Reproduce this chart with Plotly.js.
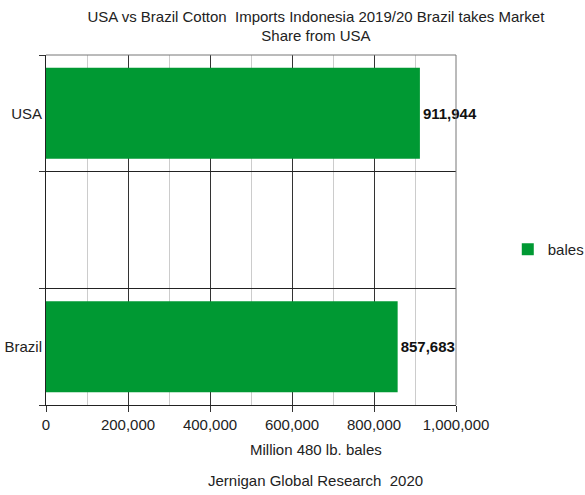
<!DOCTYPE html>
<html><head>
<script src="https://cdn.plot.ly/plotly-3.0.1.min.js"></script>
<style>body{margin:0;background:#fff}</style>
</head><body>
<div id="chart" style="width:585px;height:495px"></div>
<script>
const categories = ["Brazil", " ", "USA"];
const barCategories = ["USA", "Brazil"];
const bales = [911944, 857683];
const seriesName = "bales";
const chartTitle = "USA vs Brazil Cotton  Imports Indonesia 2019/20 Brazil takes Market<br>Share from USA";
const xTitle = "Million 480 lb. bales";
const footer = "Jernigan Global Research  2020";

const FONT = "Liberation Sans, Arial, sans-serif";

const trace = {
  type: "bar",
  orientation: "h",
  y: barCategories,
  x: bales,
  name: seriesName,
  marker: {color: "#009933"},
  width: 0.78,
  text: bales.map(v => v.toLocaleString("en-US")),
  textposition: "outside",
  cliponaxis: false,
  textfont: {family: FONT, size: 15, color: "#111", weight: "bold"},
  showlegend: true
};

const layout = {
  width: 585, height: 495,
  margin: {l: 46, r: 129, t: 55, b: 90},
  paper_bgcolor: "#fff", plot_bgcolor: "#fff",
  font: {family: FONT, size: 15, color: "#222"},
  title: {text: chartTitle, xref: "container", x: 0.54, xanchor: "center", yref: "container", y: 0.956, yanchor: "middle",
          font: {family: FONT, size: 15, color: "#222"}, automargin: false},
  xaxis: {
    range: [0, 1000000], dtick: 200000, tick0: 0, tickformat: ",d",
    showgrid: true, gridcolor: "#333", gridwidth: 1,
    minor: {dtick: 100000, showgrid: true, gridcolor: "#ccc", gridwidth: 1},
    ticks: "outside", ticklen: 6, tickcolor: "#333",
    showline: true, linecolor: "#222", zeroline: false,
    tickfont: {family: FONT, size: 15, color: "#222"}, fixedrange: true, automargin: false
  },
  yaxis: {
    type: "category", categoryorder: "array", categoryarray: categories,
    range: [-0.5, 2.5], tickson: "boundaries",
    ticks: "outside", ticklen: 6, tickcolor: "#333",
    showgrid: true, gridcolor: "#222", gridwidth: 1,
    showline: true, linecolor: "#222", zeroline: false,
    tickfont: {family: FONT, size: 15, color: "#222"}, fixedrange: true, automargin: false
  },
  legend: {xref: "container", x: 0.868, xanchor: "left", yref: "container", y: 0.496, yanchor: "middle",
           font: {family: FONT, size: 15, color: "#222"}, bgcolor: "rgba(0,0,0,0)"},
  shapes: [
    {type: "line", xref: "paper", yref: "paper", x0: 0, x1: 1, y0: 1, y1: 1, line: {color: "#777", width: 1}},
    {type: "line", xref: "paper", yref: "paper", x0: 1, x1: 1, y0: 0, y1: 1, line: {color: "#777", width: 1}}
  ],
  annotations: [
    {text: xTitle, xref: "paper", yref: "paper", x: 0.6585, y: -0.126, xanchor: "center", yanchor: "middle",
     showarrow: false, font: {family: FONT, size: 15, color: "#222"}},
    {text: footer, xref: "paper", yref: "paper", x: 0.6585, y: -0.217, xanchor: "center", yanchor: "middle",
     showarrow: false, font: {family: FONT, size: 15, color: "#222"}}
  ]
};

Plotly.newPlot("chart", [trace], layout, {displayModeBar: false, staticPlot: true});
</script>
</body></html>
